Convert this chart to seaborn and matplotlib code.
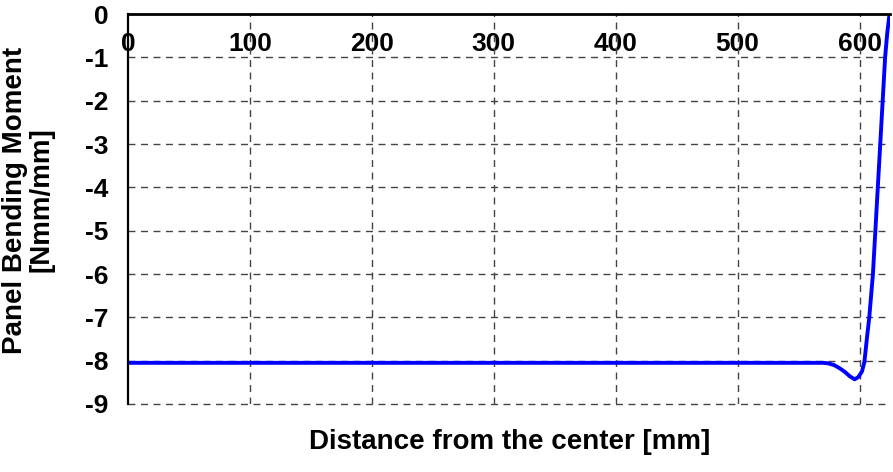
import pandas as pd
import matplotlib
matplotlib.use('Agg')
import matplotlib.pyplot as plt
import seaborn as sns

# values
distance = [0, 100, 200, 300, 400, 500, 560, 570, 574, 579, 584, 588, 592, 596,
            599, 602, 604, 606, 608, 611, 613, 615, 617, 619, 621, 622.7, 624.6]
moment = [-8.05, -8.05, -8.05, -8.05, -8.05, -8.05, -8.05, -8.05, -8.06, -8.1,
          -8.18, -8.26, -8.36, -8.43, -8.38, -8.25, -8.03, -7.5, -7.0, -6.0,
          -5.0, -4.0, -3.0, -2.0, -1.0, -0.45, 0.0]
x_ticks = [0, 100, 200, 300, 400, 500, 600]
y_ticks = [0, -1, -2, -3, -4, -5, -6, -7, -8, -9]

df = pd.DataFrame({'Distance': distance, 'Moment': moment})

sns.set_style("white")
plt.rcParams['font.family'] = ['Liberation Sans', 'DejaVu Sans']
plt.rcParams['font.weight'] = 'bold'
plt.rcParams['axes.unicode_minus'] = False
plt.rcParams['text.color'] = 'black'

fig = plt.figure(figsize=(8.93, 4.72), dpi=100)
ax = fig.add_axes([128 / 893, 1 - 404 / 472, (890 - 128) / 893, (404 - 14) / 472])

sns.lineplot(data=df, x='Distance', y='Moment', color='#0000FF', lw=2.8,
             ax=ax, zorder=5)

ax.set_xlim(0, 625)
ax.set_ylim(-9, 0)
ax.set_xticks(x_ticks)
ax.set_yticks(y_ticks)

# x axis drawn along y = 0 (top of the plot area)
ax.spines['bottom'].set_position(('data', 0))
ax.spines['bottom'].set_linewidth(2.0)
ax.spines['bottom'].set_color('black')
ax.spines['left'].set_linewidth(1.6)
ax.spines['left'].set_color('black')
ax.spines['top'].set_visible(False)
ax.spines['right'].set_visible(False)
ax.spines['bottom'].set_zorder(6)
ax.spines['left'].set_zorder(6)

ax.tick_params(axis='x', direction='out', length=5, width=1.6, pad=8,
               labelsize=19, colors='black')
ax.tick_params(axis='y', direction='out', length=5, width=1.2, pad=9,
               labelsize=19, colors='black')
for lab in ax.get_xticklabels() + ax.get_yticklabels():
    lab.set_fontweight('bold')
    lab.set_zorder(7)

for v in x_ticks[1:]:
    ax.axvline(v, color='#444444', lw=1, ls=(0, (5, 4)), zorder=1)
for v in y_ticks[1:]:
    ax.axhline(v, color='#444444', lw=1, ls=(0, (5, 4)), zorder=1, clip_on=False)

ax.set_xlabel('')
ax.set_ylabel('')
fig.text(510 / 893, 1 - 442 / 472, 'Distance from the center [mm]', ha='center',
         va='center', fontsize=20, fontweight='bold')
fig.text(28 / 893, 1 - 200 / 472, 'Panel Bending Moment\n[Nmm/mm]', ha='center',
         va='center', rotation=90, fontsize=20, fontweight='bold', linespacing=1.0)

fig.savefig('out.png', dpi=100)
